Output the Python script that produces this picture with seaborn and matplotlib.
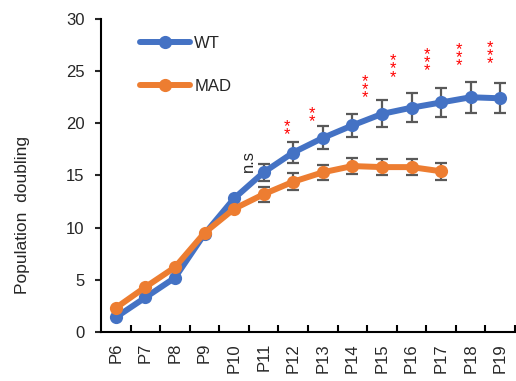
import numpy as np
import pandas as pd
import matplotlib
matplotlib.use("Agg")
import matplotlib.pyplot as plt
import seaborn as sns

# Passages and population doubling values
passages = ["P6", "P7", "P8", "P9", "P10", "P11", "P12", "P13",
            "P14", "P15", "P16", "P17", "P18", "P19"]
wt_mean = [1.4, 3.3, 5.2, 9.4, 12.8, 15.3, 17.2, 18.6,
           19.8, 20.9, 21.5, 22.0, 22.5, 22.4]
wt_err = [0, 0, 0, 0, 0, 0.8, 1.0, 1.1, 1.1, 1.3, 1.4, 1.4, 1.5, 1.45]
mad_mean = [2.3, 4.3, 6.2, 9.5, 11.8, 13.2, 14.4, 15.3,
            15.9, 15.8, 15.8, 15.4]
mad_err = [0, 0, 0, 0, 0, 0.7, 0.8, 0.7, 0.8, 0.8, 0.8, 0.8]

# Significance marks above the WT curve
sig_labels = ["n.s", "**", "**", "***", "***", "***", "***", "***"]
sig_x = [4.47, 5.8, 6.64, 8.41, 9.36, 10.51, 11.59, 12.64]
sig_y = [16.4, 19.3, 20.5, 23.2, 25.2, 25.8, 26.3, 26.5]

blue = "#4472C4"
orange = "#ED7D31"
err_color = "#595959"

sns.set_style("ticks")
plt.rcParams["font.family"] = ["Liberation Sans", "DejaVu Sans"]

df = pd.concat([
    pd.DataFrame({"passage": passages, "pd": wt_mean, "group": "WT"}),
    pd.DataFrame({"passage": passages[:len(mad_mean)], "pd": mad_mean,
                  "group": "MAD"}),
], ignore_index=True)

fig = plt.figure(figsize=(5.16, 3.81), dpi=100)
ax = fig.add_axes([0.196, 0.129, 0.802, 0.821])

sns.lineplot(data=df, x="passage", y="pd", hue="group",
             palette={"WT": blue, "MAD": orange}, sort=False,
             marker="o", markersize=9.5, markeredgewidth=0,
             linewidth=4.3, ax=ax, zorder=2)

# Error bars (only where a spread is present)
for means, errs in ((wt_mean, wt_err), (mad_mean, mad_err)):
    idx = np.array([i for i, e in enumerate(errs) if e > 0])
    ax.errorbar(idx, np.array(means)[idx], yerr=np.array(errs)[idx],
                fmt="none", ecolor=err_color, elinewidth=1.6,
                capsize=4, capthick=1.6, zorder=1.5)

for lab, x, y in zip(sig_labels, sig_x, sig_y):
    if lab == "n.s":
        ax.text(x, y, lab, rotation=90, ha="center", va="center",
                fontsize=12, color="#262626")
    else:
        ax.text(x, y, "\n".join(lab), ha="center", va="center",
                fontsize=12, color="#FF0000", linespacing=0.42)

ax.set_xlim(-0.5, len(passages) - 0.5)
ax.set_ylim(0, 30)
ax.set_yticks([0, 5, 10, 15, 20, 25, 30])
ax.set_xticks(range(len(passages)))
ax.set_xticklabels(passages, rotation=90)
ax.set_xticks(np.arange(0.5, len(passages), 1.0), minor=True)
ax.tick_params(axis="x", which="major", length=0, pad=8, labelsize=12,
               labelcolor="#262626")
ax.tick_params(axis="x", which="minor", direction="in", length=5,
               width=1.5, color="black")
ax.tick_params(axis="y", direction="out", length=4, width=1.5,
               pad=8, labelsize=12, labelcolor="#262626")
ax.set_xlabel("")
ax.set_ylabel("Population  doubling", fontsize=12.5, color="#262626")
ax.yaxis.set_label_coords(-0.172, 0.374)

for side in ("top", "right"):
    ax.spines[side].set_visible(False)
for side in ("left", "bottom"):
    ax.spines[side].set_linewidth(1.5)
    ax.spines[side].set_color("black")

sns.move_legend(ax, "upper left", bbox_to_anchor=(0.094, 0.947),
                frameon=False, title=None, fontsize=12,
                handlelength=3.0, handletextpad=0.25, labelspacing=1.7,
                borderpad=0, borderaxespad=0)
for t in ax.get_legend().get_texts():
    t.set_color("#262626")

fig.savefig("out.png", dpi=100)
